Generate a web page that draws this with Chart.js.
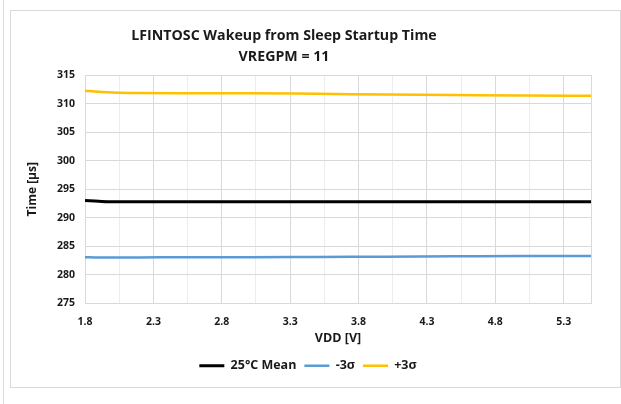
<!DOCTYPE html>
<html>
<head>
<meta charset="utf-8">
<script src="https://cdn.jsdelivr.net/npm/chart.js@4.4.1/dist/chart.umd.min.js"></script>
<style>
  html,body{margin:0;padding:0;background:#fff;width:621px;height:404px;overflow:hidden;}
  #edge{position:absolute;left:3px;top:0;width:1px;height:404px;background:#d9d9d9;}
  #box{position:absolute;left:10px;top:10px;width:609px;height:376px;border:1px solid #d9d9d9;}
  #chart{display:block;}
</style>
</head>
<body>
<div id="edge"></div>
<div id="box"><canvas id="chart" width="609" height="376"></canvas></div>
<script>
// data
const vdd       = [1.8, 1.9, 2.0, 2.2, 2.5, 3.0, 3.5, 4.0, 4.5, 5.0, 5.5];
const meanVals  = [293.05, 292.9, 292.8, 292.8, 292.8, 292.8, 292.8, 292.8, 292.8, 292.8, 292.8];
const minusVals = [283.1, 283.05, 283.05, 283.05, 283.1, 283.1, 283.15, 283.2, 283.25, 283.3, 283.3];
const plusVals  = [312.25, 312.05, 311.95, 311.85, 311.8, 311.8, 311.7, 311.6, 311.5, 311.4, 311.35];
const seriesNames = ['25°C Mean', '-3σ', '+3σ'];
const xMajor    = [1.8, 2.3, 2.8, 3.3, 3.8, 4.3, 4.8, 5.3];
const titleLines = ['LFINTOSC Wakeup from Sleep Startup Time', 'VREGPM = 11'];

const FONT = '"Open Sans", sans-serif';
const INK = '#1a1a1a';
const MAJOR = '#d9d9d9', MINOR = '#ededed';

const isMajorX = v => xMajor.some(m => Math.abs(m - v) < 1e-6);

// title drawn by hand (Excel puts it left of center)
const titlePlugin = {
  id:'xlTitle',
  afterDraw(chart){
    const c = chart.ctx;
    c.save();
    c.fillStyle = INK;
    c.font = '700 14.2px ' + FONT;
    c.textAlign = 'center';
    c.textBaseline = 'middle';
    c.fillText(titleLines[0], 273, 25);
    c.fillText(titleLines[1], 273, 46);
    c.restore();
  }
};

const mk = (label, data, color, w) => ({
  label, data: vdd.map((x,i)=>({x, y:data[i]})),
  borderColor: color, backgroundColor: color, borderWidth: w,
  pointRadius: 0, cubicInterpolationMode: 'monotone', fill: false
});

new Chart(document.getElementById('chart'), {
  type: 'line',
  data: {
    datasets: [
      mk(seriesNames[0], meanVals,  '#000000', 3),
      mk(seriesNames[1], minusVals, '#5b9bd5', 2.5),
      mk(seriesNames[2], plusVals,  '#ffc000', 2.5)
    ]
  },
  options: {
    responsive: false,
    animation: false,
    layout: { padding: { left: 14, right: 29, top: 64, bottom: 5 } },
    plugins: {
      title: { display: false },
      tooltip: { enabled: false },
      legend: {
        position: 'bottom',
        labels: {
          usePointStyle: true, pointStyle: 'line', pointStyleWidth: 25,
          color: INK, font: { family: FONT, size: 12.5, weight: 700 },
          padding: 8, boxHeight: 3
        }
      }
    },
    scales: {
      x: {
        type: 'linear', min: 1.8, max: 5.5,
        afterBuildTicks(s){
          const t = [];
          xMajor.forEach(m => { t.push({value:m}); t.push({value: Math.round((m+0.25)*100)/100}); });
          const out = t.filter(k => k.value < 5.5);
          out.push({value:5.5});
          s.ticks = out;
        },
        afterFit(s){ s.height = 48; },
        border: { color: MAJOR },
        grid: {
          drawTicks: false,
          color: c => (c.tick && (isMajorX(c.tick.value) || c.tick.value === 5.5)) ? MAJOR : MINOR
        },
        ticks: {
          padding: 12, maxRotation: 0, autoSkip: false,
          color: INK, font: { family: FONT, size: 10.5, weight: 700 },
          callback: v => isMajorX(v) ? v.toFixed(1) : ''
        },
        title: {
          display: true, text: 'VDD [V]', color: INK,
          font: { family: FONT, size: 12.5, weight: 700 }, padding: { top: 4, bottom: 6 }
        }
      },
      y: {
        min: 275, max: 315,
        afterFit(s){ s.width = 60; },
        border: { color: MAJOR },
        grid: {
          drawTicks: false,
          color: c => (c.tick && c.tick.value % 5 === 0) ? MAJOR : MINOR
        },
        ticks: {
          stepSize: 2.5, padding: 10,
          color: INK, font: { family: FONT, size: 10.5, weight: 700 },
          callback: v => v % 5 === 0 ? String(v) : ''
        },
        title: {
          display: true, text: 'Time [µs]', color: INK,
          font: { family: FONT, size: 12, weight: 700 }, padding: { top: 0, bottom: 4 }
        }
      }
    }
  },
  plugins: [titlePlugin]
});
</script>
</body>
</html>
